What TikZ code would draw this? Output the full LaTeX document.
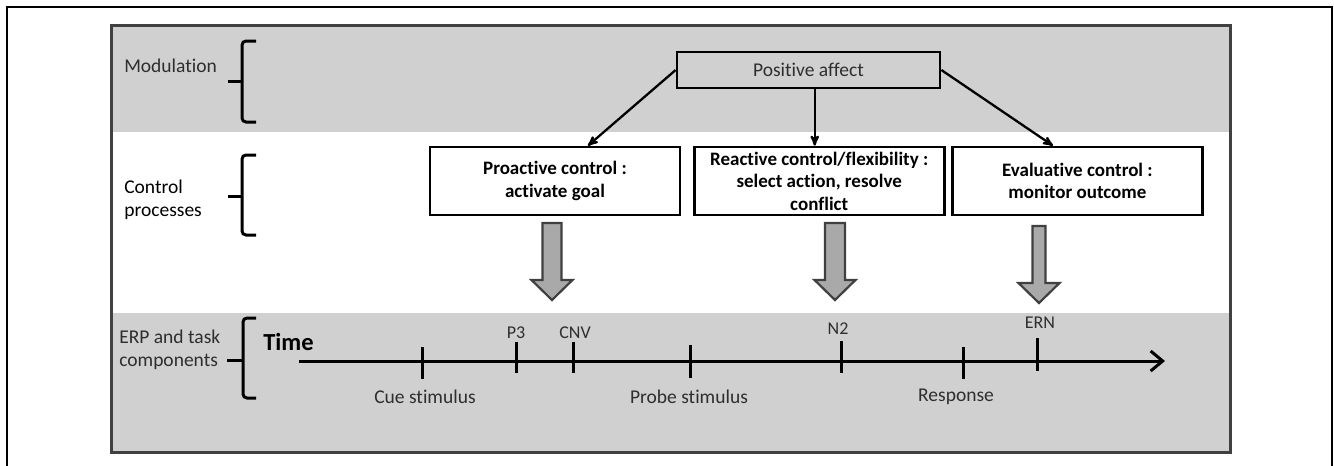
\documentclass[tikz,border=0pt]{standalone}
\usepackage{fontspec}
\setmainfont{Carlito}[Ligatures={NoCommon}]
\usetikzlibrary{positioning, arrows, arrows.meta}

\definecolor{bandgray}{HTML}{D0D0D0}
\definecolor{arrowgray}{HTML}{A9A9A9}
\definecolor{panelline}{HTML}{404040}
\definecolor{textgray}{HTML}{2E2E2E}

\tikzset{
  bandlabel/.style={font=\fontsize{19.5}{23}\selectfont, align=left, inner sep=0pt, anchor=west},
  affectbox/.style={draw, line width=2.7pt, fill=bandgray, text=textgray, minimum width=263pt,
    minimum height=36pt, font=\fontsize{19.5}{23}\selectfont},
  ctrlbox/.style={draw, line width=2.7pt, fill=white, minimum width=250pt, minimum height=68pt,
    align=center, inner sep=2pt, font=\fontsize{19}{22.5}\selectfont\bfseries},
  brace/.style={line width=3pt, rounded corners=4pt},
  blockarrow/.style={draw=panelline, line width=2.2pt, fill=arrowgray, line join=miter},
  timeline/.style={line width=3pt, -{Straight Barb[length=12pt, width=20pt, line width=3pt]}},
  tick/.style={line width=3pt},
  evlabel/.style={text=textgray, inner sep=0pt, font=\fontsize{19.5}{23}\selectfont},
  complabel/.style={text=textgray, inner sep=0pt, font=\fontsize{18}{21}\selectfont},
}

% fat grey arrow: centre x, top y, half shaft width
\newcommand{\bigdownarrow}[3]{%
  \draw[blockarrow] (#1-#3,#2) -- (#1+#3,#2) -- (#1+#3,#2+57) -- (#1+20.5,#2+57)
    -- (#1,#2+77) -- (#1-20.5,#2+57) -- (#1-#3,#2+57) -- cycle;}

\begin{document}
\begin{tikzpicture}[x=1pt, y=-1pt, >=stealth', semithick]
  \useasboundingbox (0,0) rectangle (1334,466);

  % Frame and bands
  \draw[line width=2pt] (7,470) |- (1332,7) -- (1332,470);
  \fill[bandgray] (111,25) rectangle (1230,132);
  \fill[bandgray] (111,313) rectangle (1230,452);
  \draw[panelline, line width=3pt] (111,25) rectangle (1230,452);

  % Row labels
  \node[bandlabel, text=textgray] (modlab) at (124,66) {Modulation};
  \node[bandlabel] (ctrllab) at (124,200) {Control\\processes};
  \node[bandlabel, text=textgray] (erplab) at (119,350) {ERP and task\\components};

  % Braces
  \draw[brace] (256,41) -| (242,81) |- (256,122);
  \draw[brace] (242,81) -- (228,81);
  \draw[brace] (256,155) -| (242,196) |- (256,235);
  \draw[brace] (242,196) -- (228,196);
  \draw[brace] (256,318) -| (243,360) |- (256,398);
  \draw[brace] (243,360) -- (227,360);

  % Modulation
  \node[affectbox] (affect) at (808.5,70) {Positive affect};

  % Control processes
  \node[ctrlbox] (proactive) at (555,181) {Proactive control :\\activate goal};
  \node[ctrlbox, right=11.5pt of proactive] (reactive) {Reactive control/flexibility :\\select action, resolve\\conflict};
  \node[ctrlbox, right=5.5pt of reactive] (evaluative) {Evaluative control :\\monitor outcome};

  % Arrows from positive affect
  \draw[->, line width=2.3pt] (affect.west) -- ([xshift=33pt]proactive.north);
  \draw[->, line width=2.3pt] ([xshift=-4.5pt]reactive.north |- affect.south) -- ([xshift=-4.5pt]reactive.north);
  \draw[->, line width=2.3pt] (affect.east) -- ([xshift=-24.5pt]evaluative.north);

  % Fat arrows down to the time line
  \bigdownarrow{552}{223}{9.5}
  \bigdownarrow{835}{223}{10}
  \bigdownarrow{1039}{226}{6.5}

  % Time line
  \node[anchor=west, inner sep=0pt, font=\fontsize{24.5}{28}\selectfont\bfseries] (time) at (263,342) {Time};
  \coordinate (t0) at (299,361);
  \coordinate (t1) at (1165,361);
  \draw[timeline] (t0) -- (t1);

  % Task events
  \coordinate (cue) at (422,361);
  \draw[tick] ([yshift=14pt]cue) -- ([yshift=-18pt]cue);
  \node[evlabel] (cuelab) at ([xshift=3pt, yshift=-36pt]cue) {Cue stimulus};
  \coordinate (probe) at (690,361);
  \draw[tick] ([yshift=16pt]probe) -- ([yshift=-17pt]probe);
  \node[evlabel] (probelab) at ([xshift=-1pt, yshift=-36pt]probe) {Probe stimulus};
  \coordinate (resp) at (963,361);
  \draw[tick] ([yshift=14pt]resp) -- ([yshift=-18pt]resp);
  \node[evlabel] (resplab) at ([xshift=-7pt, yshift=-36pt]resp) {Response};

  % ERP components
  \coordinate (p3) at (516,361);
  \draw[tick] ([yshift=19pt]p3) -- ([yshift=-12pt]p3);
  \node[complabel] (p3lab) at ([yshift=28pt]p3) {P3};
  \coordinate (cnv) at (573,361);
  \draw[tick] ([yshift=19pt]cnv) -- ([yshift=-12pt]cnv);
  \node[complabel] (cnvlab) at ([xshift=2pt, yshift=28pt]cnv) {CNV};
  \coordinate (n2) at (841,361);
  \draw[tick] ([yshift=20pt]n2) -- ([yshift=-12pt]n2);
  \node[complabel] (n2lab) at ([xshift=-3pt, yshift=32pt]n2) {N2};
  \coordinate (ern) at (1037,361);
  \draw[tick] ([yshift=23pt]ern) -- ([yshift=-10pt]ern);
  \node[complabel] (ernlab) at ([xshift=3pt, yshift=38pt]ern) {ERN};

\end{tikzpicture}
\end{document}
